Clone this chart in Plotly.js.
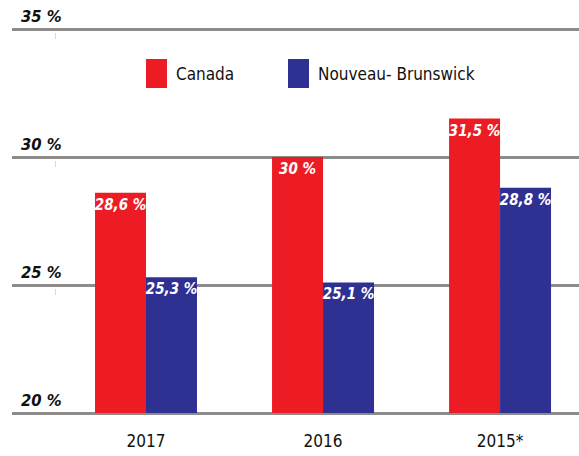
<!DOCTYPE html>
<html><head><meta charset="utf-8">
<script src="https://cdn.plot.ly/plotly-3.0.1.min.js"></script>
<style>html,body{margin:0;padding:0;background:#fff}#chart{width:579px;height:456px}</style>
</head><body><div id="chart"></div>
<script>
const categories = ['2017', '2016', '2015*'];
const canadaValues = [28.6, 30, 31.5];
const nbValues = [25.3, 25.1, 28.8];
const seriesNames = ['Canada', 'Nouveau- Brunswick'];
const yTicks = [20, 25, 30, 35];
const yTickLabels = ['20 %', '25 %', '30 %', '35 %'];

(function () {
const FONT = '"DejaVu Sans Condensed", "DejaVu Sans", sans-serif';
const colors = ['#ED1C24', '#2E3192'];
const fmt = v => String(v).replace('.', ',') + ' %';
const BASE = 20;

const mk = (vals, i) => ({
  type: 'bar', x: categories, y: vals.map(v => v - BASE), base: BASE, name: seriesNames[i],
  marker: {color: colors[i], line: {width: 0}},
  text: vals.map(fmt), textposition: 'inside', insidetextanchor: 'end', textangle: 0,
  constraintext: 'none',
  textfont: {family: FONT, size: 15, color: '#fff', weight: 'bold', style: 'italic', stretch: 'condensed'},
  hoverinfo: 'skip'
});
const data = [mk(canadaValues, 0), mk(nbValues, 1)];

const pL = 12, pR = 579, pT = 26, pB = 416;
const yR = [19.883, 35.117];
const pxX = x => (x - pL) / (pR - pL);
const pyY = y => (pB - y) / (pB - pT);

const annotations = yTicks.map((t, i) => ({
  xref: 'paper', yref: 'y', x: pxX(19), y: t, xanchor: 'left', yanchor: 'bottom',
  yshift: 1, showarrow: false, text: yTickLabels[i],
  font: {family: FONT, size: 16.5, color: '#111', weight: 'bold', style: 'italic', stretch: 'condensed'}
}));
const shapes = yTicks.map(t => ({
  type: 'line', xref: 'paper', yref: 'y', ysizemode: 'pixel', yanchor: t,
  x0: pxX(55.5), x1: pxX(55.5), y0: -4, y1: -10, line: {color: '#d8d8d8', width: 1}
}));
const legendX = [146, 288];
seriesNames.forEach((n, i) => {
  shapes.push({type: 'rect', xref: 'paper', yref: 'paper', x0: pxX(legendX[i]), x1: pxX(legendX[i] + 21),
    y0: pyY(88), y1: pyY(59), fillcolor: colors[i], line: {width: 0}});
  annotations.push({xref: 'paper', yref: 'paper', x: pxX(legendX[i] + 28), y: pyY(74), xanchor: 'left',
    yanchor: 'middle', showarrow: false, text: n,
    font: {family: FONT, size: 17, color: '#111', stretch: 'condensed'}});
});

const layout = {
  width: 579, height: 456,
  margin: {l: pL, r: 579 - pR, t: pT, b: 456 - pB, pad: 0},
  paper_bgcolor: '#fff', plot_bgcolor: '#fff',
  showlegend: false,
  barmode: 'group', bargap: 0.424, bargroupgap: 0,
  xaxis: {type: 'category', range: [-0.757, 2.446], showgrid: false, zeroline: false, showline: false,
    ticks: '', ticklabelstandoff: 13, tickfont: {family: FONT, size: 17, color: '#111', stretch: 'condensed'}},
  yaxis: {range: yR, tickvals: yTicks, showticklabels: false, showgrid: true,
    gridcolor: '#8c8c8c', gridwidth: 3, zeroline: false, showline: false, ticks: ''},
  annotations: annotations, shapes: shapes
};
Plotly.newPlot('chart', data, layout, {staticPlot: true, displayModeBar: false});
})();
</script></body></html>
